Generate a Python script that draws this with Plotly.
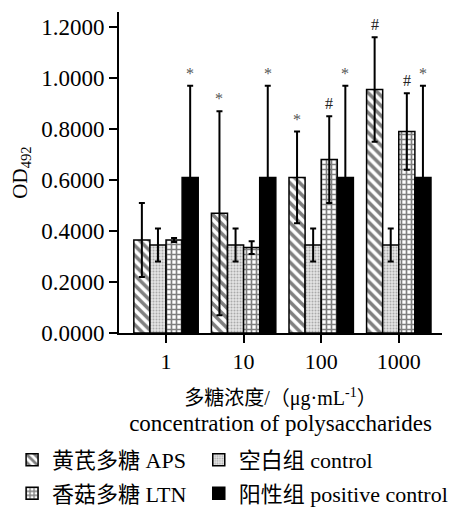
import plotly.graph_objects as go

categories = ["1", "10", "100", "1000"]

aps_mean = [0.365, 0.47, 0.61, 0.955]
aps_err = [0.145, 0.40, 0.18, 0.205]
aps_mark = ["", "*", "*", "#"]

ctrl_mean = [0.345, 0.345, 0.345, 0.345]
ctrl_err = [0.065, 0.065, 0.065, 0.065]
ctrl_mark = ["", "", "", ""]

ltn_mean = [0.365, 0.335, 0.68, 0.79]
ltn_err = [0.008, 0.025, 0.17, 0.15]
ltn_mark = ["", "", "#", "#"]

pos_mean = [0.61, 0.61, 0.61, 0.61]
pos_err = [0.36, 0.36, 0.36, 0.36]
pos_mark = ["*", "*", "*", "*"]

series_names = ["黄芪多糖 APS", "空白组 control", "香菇多糖 LTN", "阳性组 positive control"]
y_ticks = [0.0, 0.2, 0.4, 0.6, 0.8, 1.0, 1.2]

SERIF = "Liberation Serif, Times New Roman, Noto Sans CJK SC, serif"

series = [
    (series_names[0], aps_mean, aps_err, aps_mark, "legend",
     dict(color="white", pattern=dict(shape="\\", fgcolor="black", bgcolor="white", size=7, solidity=0.5))),
    (series_names[1], ctrl_mean, ctrl_err, ctrl_mark, "legend2",
     dict(color="white", pattern=dict(shape=".", fgcolor="#707070", bgcolor="#e4e4e4", size=3, solidity=0.35))),
    (series_names[2], ltn_mean, ltn_err, ltn_mark, "legend",
     dict(color="white", pattern=dict(shape="+", fgcolor="black", bgcolor="white", size=5, solidity=0.55))),
    (series_names[3], pos_mean, pos_err, pos_mark, "legend2",
     dict(color="black")),
]

BARGAP = 0.17
n = len(series)
bar_w = (1 - BARGAP) / n

fig = go.Figure()
annotations = []
for i, (name, mean, err, marks, leg, marker) in enumerate(series):
    marker = dict(marker)
    marker["line"] = dict(color="black", width=1.5)
    fig.add_trace(go.Bar(
        x=categories, y=mean, name=name, marker=marker, legend=leg, legendgroup=name,
        error_y=dict(type="data", array=err, visible=True, color="black", thickness=2, width=3),
    ))
    off = (i - (n - 1) / 2) * bar_w
    for j, m in enumerate(marks):
        if m:
            annotations.append(dict(
                x=j + off, y=mean[j] + err[j], xref="x", yref="y",
                text=m, showarrow=False, yanchor="bottom", yshift=2,
                font=dict(family=SERIF, size=16,
                          color="#222222" if m == "#" else "#555555"),
            ))

legend_common = dict(
    orientation="v", yanchor="top", xanchor="left",
    font=dict(family=SERIF, size=22, color="black"),
    itemwidth=30, borderwidth=0, tracegroupgap=2, bgcolor="rgba(0,0,0,0)",
)

# the page body has an 8px margin, so the figure is drawn 8px right and down
fig.update_layout(
    width=458, height=502,
    margin=dict(l=111, r=24, t=4, b=177, autoexpand=False),
    paper_bgcolor="white", plot_bgcolor="white",
    barmode="group", bargap=BARGAP, bargroupgap=0,
    font=dict(family=SERIF, size=21, color="black"),
    annotations=annotations,
    showlegend=True,
    legend=dict(legend_common, x=-0.331, y=-0.330),
    legend2=dict(legend_common, x=0.247, y=-0.330),
    xaxis=dict(
        type="category", range=[-0.606, 3.557],
        showline=True, linecolor="black", linewidth=2,
        ticks="outside", ticklen=8, tickwidth=2, tickcolor="black",
        tickfont=dict(family=SERIF, size=22),
        title=dict(text="多糖浓度/（μg·mL<sup>-1</sup>）<br><span style=\"font-size:23px\">concentration of polysaccharides</span>",
                   font=dict(family=SERIF, size=20), standoff=18),
        showgrid=False, zeroline=False, automargin=False,
    ),
    yaxis=dict(
        range=[0, 1.259],
        tickvals=y_ticks, tickformat=".4f",
        showline=True, linecolor="black", linewidth=2,
        ticks="outside", ticklen=8, tickwidth=2, tickcolor="black",
        tickfont=dict(family=SERIF, size=23),
        title=dict(text="OD<sub>492</sub>", font=dict(family=SERIF, size=21), standoff=14),
        showgrid=False, zeroline=False, automargin=False,
    ),
)

fig.write_html("out.html")
